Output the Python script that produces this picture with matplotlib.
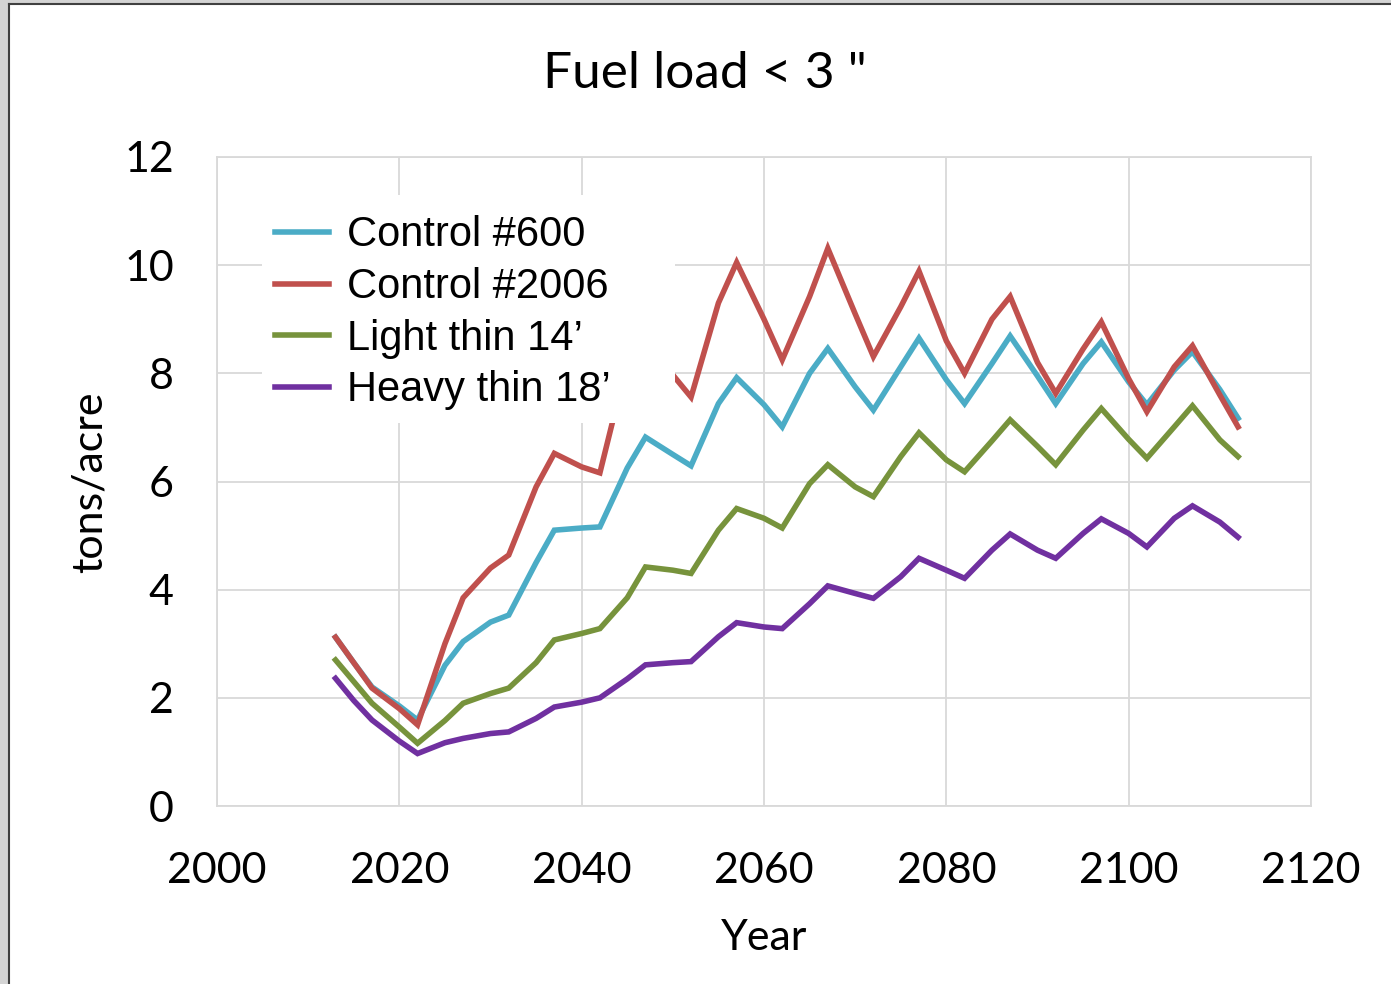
import matplotlib
matplotlib.use("Agg")
import matplotlib.pyplot as plt
from matplotlib.patches import Rectangle
from matplotlib.lines import Line2D

years = [2013, 2015, 2017,
         2020, 2022, 2025, 2027, 2030, 2032, 2035, 2037, 2040, 2042,
         2045, 2047, 2050, 2052, 2055, 2057, 2060, 2062, 2065, 2067,
         2070, 2072, 2075, 2077, 2080, 2082, 2085, 2087, 2090, 2092,
         2095, 2097, 2100, 2102, 2105, 2107, 2110, 2112]

control_600 = [3.12, 2.65, 2.20,
               1.85, 1.59, 2.60, 3.04, 3.40, 3.53, 4.50, 5.10, 5.14, 5.16,
               6.25, 6.82, 6.50, 6.29, 7.44, 7.92, 7.42, 7.01, 8.00, 8.46,
               7.75, 7.32, 8.12, 8.65, 7.88, 7.44, 8.18, 8.69, 7.95, 7.44,
               8.18, 8.58, 7.84, 7.42, 8.06, 8.40, 7.70, 7.17]

control_2006 = [3.12, 2.65, 2.18,
                1.80, 1.50, 3.00, 3.85, 4.40, 4.64, 5.90, 6.52, 6.27, 6.16,
                8.20, 8.90, 7.97, 7.56, 9.30, 10.05, 9.00, 8.25, 9.42, 10.31,
                9.10, 8.31, 9.23, 9.89, 8.60, 8.00, 9.00, 9.42, 8.20, 7.63,
                8.45, 8.95, 7.90, 7.29, 8.12, 8.51, 7.60, 7.01]

light_thin_14 = [2.70, 2.30, 1.90,
                 1.46, 1.16, 1.58, 1.90, 2.08, 2.18, 2.65, 3.07, 3.19, 3.28,
                 3.85, 4.42, 4.36, 4.30, 5.10, 5.50, 5.32, 5.14, 5.96, 6.31,
                 5.90, 5.72, 6.46, 6.90, 6.40, 6.18, 6.75, 7.14, 6.65, 6.31,
                 6.95, 7.35, 6.78, 6.43, 7.01, 7.40, 6.77, 6.46]

heavy_thin_18 = [2.36, 1.95, 1.59,
                 1.20, 0.97, 1.17, 1.25, 1.34, 1.37, 1.62, 1.83, 1.92, 2.00,
                 2.35, 2.61, 2.65, 2.67, 3.13, 3.39, 3.31, 3.28, 3.74, 4.07,
                 3.93, 3.84, 4.24, 4.58, 4.36, 4.21, 4.73, 5.03, 4.73, 4.58,
                 5.04, 5.31, 5.04, 4.79, 5.32, 5.55, 5.25, 4.97]

series_labels = ["Control #600", "Control #2006", "Light thin 14\u2019", "Heavy thin 18\u2019"]
series_colors = ["#4bacc6", "#c0504d", "#77933c", "#7030a0"]

x_ticks = [2000, 2020, 2040, 2060, 2080, 2100, 2120]
y_ticks = [0, 2, 4, 6, 8, 10, 12]

W, H = 1391, 984
fig = plt.figure(figsize=(W / 100, H / 100), dpi=100)
ax = fig.add_axes([217 / W, 1 - 806 / H, (1311 - 217) / W, (806 - 157) / H])

calfont = ["Lato", "DejaVu Sans"]

for vals, lab, col in zip([control_600, control_2006, light_thin_14, heavy_thin_18],
                          series_labels, series_colors):
    ax.plot(years, vals, color=col, lw=4.0, label=lab, solid_joinstyle="miter")

ax.set_xlim(2000, 2120)
ax.set_ylim(0, 12)
ax.set_xticks(x_ticks)
ax.set_yticks(y_ticks)
ax.grid(True, color="#d9d9d9", lw=1.3)
ax.set_axisbelow(True)
for s in ax.spines.values():
    s.set_color("#d9d9d9")
    s.set_linewidth(1.3)
ax.tick_params(length=0)
ax.tick_params(axis="x", pad=33)
ax.tick_params(axis="y", pad=31)
for t in ax.get_xticklabels() + ax.get_yticklabels():
    t.set_family(calfont)
    t.set_fontsize(31)

# white legend panel (wider than its text, as in the original)
x0, x1 = (262 - 217) / 1094, (675 - 217) / 1094
y0, y1 = (806 - 423) / 649, (806 - 195) / 649
ax.add_patch(Rectangle((x0, y0), x1 - x0, y1 - y0, transform=ax.transAxes,
                       facecolor="white", edgecolor="none", zorder=4))

leg = ax.legend(loc="upper left", bbox_to_anchor=(x0, (806 - 203) / 649),
                borderaxespad=0, frameon=False,
                prop={"family": ["Liberation Sans", "DejaVu Sans"], "size": 30},
                handlelength=1.3, handletextpad=0.45, labelspacing=0.28,
                borderpad=0.3)
leg.set_zorder(5)

fig.text(705 / W, 1 - 74 / H, "Fuel load < 3 \"", ha="center", va="center",
         family=calfont, fontsize=37)
fig.text(90 / W, 1 - 482 / H, "tons/acre", rotation=90, ha="center", va="center",
         family=calfont, fontsize=31)
fig.text(764 / W, 1 - 938 / H, "Year", ha="center", va="center",
         family=calfont, fontsize=31)

# outer frame
fig.patches.append(Rectangle((0, 0), 8 / W, 1, transform=fig.transFigure,
                             facecolor="#d4d4d4", edgecolor="none"))
fig.patches.append(Rectangle((0, 1 - 3 / H), 1, 3 / H, transform=fig.transFigure,
                             facecolor="#d4d4d4", edgecolor="none"))
fig.lines.append(Line2D([9 / W, 9 / W], [0, 1 - 3.5 / H], transform=fig.transFigure,
                        color="#404040", lw=1.5))
fig.lines.append(Line2D([9 / W, 1], [1 - 3.5 / H, 1 - 3.5 / H], transform=fig.transFigure,
                        color="#404040", lw=1.5))

fig.savefig("out.png", dpi=100)
